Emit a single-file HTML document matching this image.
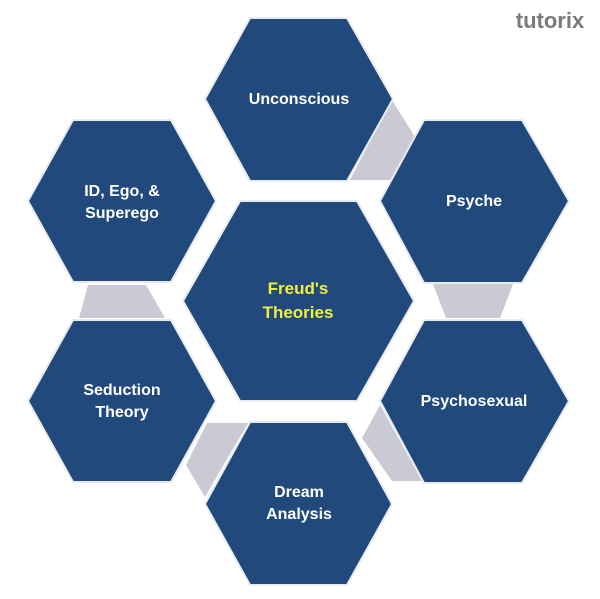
<!DOCTYPE html>
<html><head><style>
body{margin:0;background:#fff;width:600px;height:594px;overflow:hidden}
svg text{font-family:"Liberation Sans",sans-serif;font-weight:bold;font-size:16px;fill:#fff;text-anchor:middle}
</style></head><body>
<svg width="600" height="594" viewBox="0 0 600 594">
<g fill="#c9cad3">
<polygon points="392,100 415,137 390,180 350,180"/>
<polygon points="433,284 513,284 500,318 446,318"/>
<polygon points="88,285 146,285 165,318 79,318"/>
<polygon points="207,423 248,423 205,497 186,465"/>
<polygon points="362,438 380,405 422,481 392,481"/>
</g>
<g fill="#22497c" stroke="#e8ecf0" stroke-width="2">
<polygon points="205,99 250,18 347,18 393,99 347,181 250,181"/>
<polygon points="380,201 424,120 522,120 569,201 522,283 424,283"/>
<polygon points="28,201 73,120 171,120 216,201 171,282 73,282"/>
<polygon points="183,301 240,201 357,201 414,301 357,401 240,401"/>
<polygon points="28,401 73,320 171,320 216,401 171,482 73,482"/>
<polygon points="380,401 424,320 522,320 569,401 522,483 424,483"/>
<polygon points="205,504 250,422 347,422 392,504 347,585 250,585"/>
</g>
<text x="299" y="104">Unconscious</text>
<text x="474" y="206">Psyche</text>
<text x="122" y="196">ID, Ego, &amp;</text>
<text x="122" y="218">Superego</text>
<text x="298" y="294" style="fill:#f0f03c;font-size:17px">Freud's</text>
<text x="298" y="318" style="fill:#f0f03c;font-size:17px">Theories</text>
<text x="122" y="395">Seduction</text>
<text x="122" y="417">Theory</text>
<text x="474" y="406">Psychosexual</text>
<text x="299" y="497">Dream</text>
<text x="299" y="519">Analysis</text>
<text x="550" y="28" style="fill:#7a7a7a;font-size:22px">tutorix</text>
</svg>
</body></html>
